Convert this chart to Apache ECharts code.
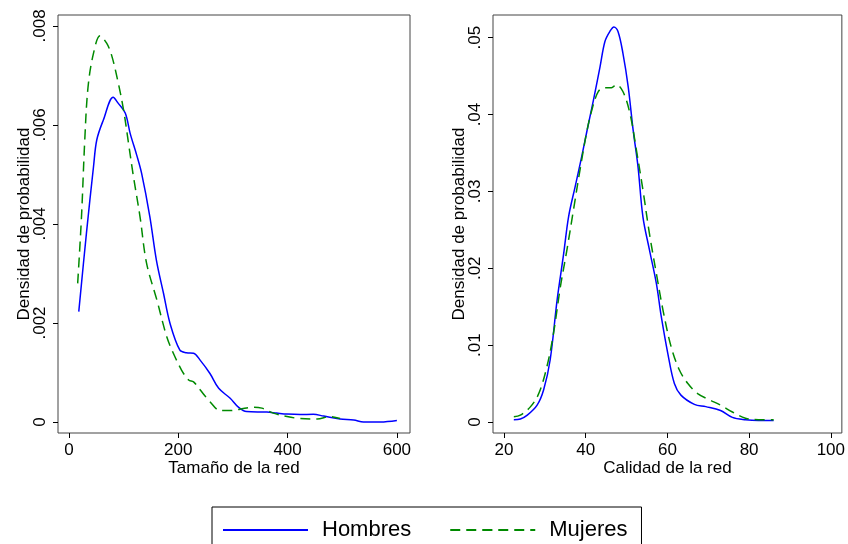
<!DOCTYPE html>
<html>
<head>
<meta charset="utf-8">
<script src="https://cdn.jsdelivr.net/npm/echarts@6/dist/echarts.min.js"></script>
<style>
  html, body { margin: 0; padding: 0; background: #fff; }
  #chart { width: 848px; height: 544px; }
</style>
</head>
<body>
<div id="chart"></div>
<script>
// Tamaño de la red (left panel)
const tamanoHombresX = [18, 32, 45, 51, 63, 81, 90, 103, 112, 124, 133, 148, 160, 173, 185, 203, 215, 228, 240, 258, 274, 295, 310, 325, 362, 380, 399, 423, 447, 466, 496, 521, 539, 570, 600];
const tamanoHombresY = [0.00223, 0.00381, 0.00516, 0.0057, 0.0061, 0.00656, 0.00644, 0.00624, 0.00583, 0.00539, 0.00502, 0.00415, 0.00327, 0.0026, 0.00199, 0.00145, 0.0014, 0.00139, 0.00125, 0.00098, 0.00068, 0.00048, 0.0003, 0.00021, 0.0002, 0.00018, 0.00016, 0.00015, 0.000155, 0.00012, 0.00006, 0.00004, 0.0, 0.0, 0.00003];
const tamanoMujeresX = [16, 23, 29, 35, 45, 57, 69, 78, 89, 100, 109, 118, 130, 142, 161, 179, 191, 206, 219, 228, 240, 258, 277, 295, 313, 338, 353, 374, 399, 423, 454, 478, 496];
const tamanoMujeresY = [0.0028, 0.00415, 0.0057, 0.00677, 0.00745, 0.0078, 0.00765, 0.00741, 0.00691, 0.0063, 0.00563, 0.00496, 0.00415, 0.00321, 0.00246, 0.00172, 0.00139, 0.00105, 0.00085, 0.00081, 0.00065, 0.00041, 0.00023, 0.00023, 0.00026, 0.0003, 0.00028, 0.00018, 0.00011, 0.00007, 0.00006, 0.00011, 0.00007];

// Calidad de la red (right panel)
const calidadHombresX = [22.4, 24.0, 25.7, 28.1, 29.7, 31.3, 33.0, 34.6, 35.8, 37.4, 39.0, 40.2, 41.9, 43.5, 44.7, 45.9, 46.9, 47.9, 49.1, 50.4, 51.6, 52.8, 54.0, 55.6, 57.3, 58.5, 60.1, 61.7, 63.3, 66.6, 69.4, 73.0, 75.9, 79.1, 82.3, 86.0];
const calidadHombresY = [0.0003, 0.0004, 0.0009, 0.0022, 0.0042, 0.0081, 0.0159, 0.0219, 0.0267, 0.0306, 0.0345, 0.0376, 0.0419, 0.0462, 0.0495, 0.0508, 0.0514, 0.0508, 0.048, 0.0436, 0.038, 0.0332, 0.0267, 0.0224, 0.018, 0.0137, 0.0089, 0.005, 0.0035, 0.0023, 0.002, 0.0015, 0.0006, 0.0003, 0.0002, 0.0002];
const calidadMujeresX = [22.4, 24.0, 26.5, 28.5, 30.5, 32.1, 33.8, 35.4, 37.0, 38.6, 40.2, 41.5, 43.1, 44.7, 46.3, 47.5, 49.1, 50.8, 52.4, 54.0, 55.6, 57.3, 58.9, 60.9, 62.9, 65.0, 67.4, 70.2, 73.0, 75.9, 79.1, 82.3, 86.0];
const calidadMujeresY = [0.0007, 0.0009, 0.002, 0.0037, 0.0072, 0.0115, 0.0176, 0.0224, 0.0276, 0.0328, 0.0376, 0.0406, 0.043, 0.0435, 0.0435, 0.0439, 0.043, 0.0402, 0.0354, 0.0302, 0.0245, 0.0193, 0.0146, 0.0098, 0.0068, 0.005, 0.0037, 0.0029, 0.0022, 0.0013, 0.0005, 0.0003, 0.0003];

const tamanoTicks = [0, 200, 400, 600];
const calidadTicks = [20, 40, 60, 80, 100];
const tamanoDensTicks = [0, 0.002, 0.004, 0.006, 0.008];
const calidadDensTicks = [0, 0.01, 0.02, 0.03, 0.04, 0.05];

const seriesNames = ['Hombres', 'Mujeres'];
const yTitle = 'Densidad de probabilidad';

const FONT = '"Liberation Sans", Arial, sans-serif';
const BLUE = '#0000ff';
const GREEN = '#008a00';

const zip = (xs, ys) => xs.map((x, i) => [x, ys[i]]);
const stripZero = (v) => (v === 0 ? '0' : String(v).replace(/^0/, ''));

function xAxisFor(idx, name, ticks, min, max) {
  return {
    type: 'value',
    gridIndex: idx,
    min: min,
    max: max,
    name: name,
    nameLocation: 'middle',
    nameGap: 27,
    nameMoveOverlap: false,
    nameTextStyle: { color: '#000', fontSize: 17, fontFamily: FONT },
    axisLine: { show: false, onZero: false },
    axisTick: { show: true, length: 5, customValues: ticks, lineStyle: { color: '#000' } },
    axisLabel: { customValues: ticks, color: '#000', fontSize: 17, fontFamily: FONT, margin: 9 },
    splitLine: { show: false }
  };
}

function yAxisFor(idx, ticks, min, max) {
  return {
    type: 'value',
    gridIndex: idx,
    min: min,
    max: max,
    name: yTitle,
    nameLocation: 'middle',
    nameGap: 25,
    nameMoveOverlap: false,
    nameTextStyle: { color: '#000', fontSize: 17, fontFamily: FONT },
    axisLine: { show: false, onZero: false },
    axisTick: { show: true, length: 5, customValues: ticks, lineStyle: { color: '#000' } },
    axisLabel: {
      customValues: ticks, rotate: 90, color: '#000', fontSize: 17, fontFamily: FONT, margin: 9,
      formatter: stripZero
    },
    splitLine: { show: false }
  };
}

function line(name, idx, data, color, dashed) {
  return {
    name: name,
    type: 'line',
    xAxisIndex: idx,
    yAxisIndex: idx,
    data: data,
    symbol: 'none',
    smooth: 0.35,
    lineStyle: { color: color, width: 1.5, type: dashed ? [10, 6] : 'solid' },
    itemStyle: { color: color },
    emphasis: { disabled: true }
  };
}

const chart = echarts.init(document.getElementById('chart'));
chart.setOption({
  animation: false,
  backgroundColor: '#fff',
  textStyle: { fontFamily: FONT },
  grid: [
    { left: 58, right: 438, top: 15, bottom: 111, show: true, borderColor: '#444', borderWidth: 1 },
    { left: 493, right: 4, top: 15, bottom: 111, show: true, borderColor: '#444', borderWidth: 1 }
  ],
  xAxis: [
    xAxisFor(0, 'Tamaño de la red', tamanoTicks, -20, 624),
    xAxisFor(1, 'Calidad de la red', calidadTicks, 17.3, 102.7)
  ],
  yAxis: [
    yAxisFor(0, tamanoDensTicks, -0.000222, 0.00822),
    yAxisFor(1, calidadDensTicks, -0.00143, 0.05295)
  ],
  legend: {
    data: seriesNames,
    left: 212,
    top: 507,
    padding: [12, 14, 20, 10],
    itemWidth: 85,
    itemHeight: 1,
    itemGap: 38,
    borderColor: '#000',
    borderWidth: 1,
    selectedMode: false,
    textStyle: { color: '#000', fontSize: 22, fontFamily: FONT, padding: [0, 0, 0, 9] }
  },
  series: [
    line(seriesNames[0], 0, zip(tamanoHombresX, tamanoHombresY), BLUE, false),
    line(seriesNames[1], 0, zip(tamanoMujeresX, tamanoMujeresY), GREEN, true),
    line(seriesNames[0], 1, zip(calidadHombresX, calidadHombresY), BLUE, false),
    line(seriesNames[1], 1, zip(calidadMujeresX, calidadMujeresY), GREEN, true)
  ]
});
</script>
</body>
</html>
